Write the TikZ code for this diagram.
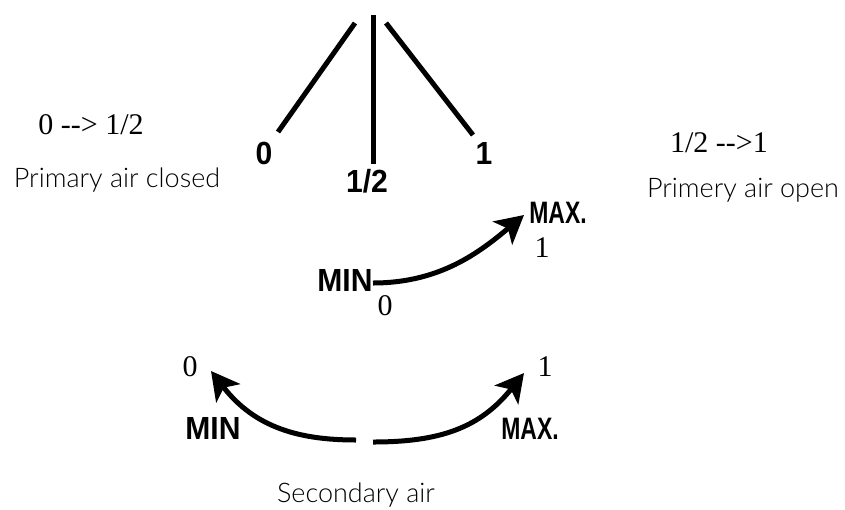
\documentclass[tikz,border=0pt]{standalone}
\usepackage{fontspec}
\setmainfont{Liberation Serif}
\newfontfamily\lblwide{Liberation Sans}[FakeStretch=0.94]
\newfontfamily\lblnarrow{Liberation Sans}[FakeStretch=0.74]
\newfontfamily\thinfont{Lato}[UprightFont=* Light]
\usetikzlibrary{arrows.meta}
\tikzset{
  lever/.style={line width=5pt},
  curvearrow/.style={line width=5pt, -{Stealth[length=28pt,width=30pt,inset=7pt]}},
  boldlbl/.style={font=\lblwide\bfseries\fontsize{32}{34}\selectfont, inner sep=0pt},
  maxlbl/.style={font=\lblnarrow\bfseries\fontsize{31}{34}\selectfont, inner sep=0pt},
  numlbl/.style={font=\fontsize{30}{32}\selectfont, inner sep=0pt},
  thinlbl/.style={font=\thinfont\fontsize{27}{30}\selectfont, inner sep=0pt},
}
\begin{document}
\begin{tikzpicture}[x=1pt,y=-1pt]
\useasboundingbox (0,0) rectangle (845,509);
% lever positions
\coordinate (l0top) at (355,23);
\coordinate (l0bot) at (278,132);
\coordinate (lhtop) at (373,15);
\coordinate (lhbot) at (373,164);
\coordinate (l1top) at (386,23);
\coordinate (l1bot) at (473,135);
\draw[lever] (l0top) -- (l0bot);
\draw[lever] (lhtop) -- (lhbot);
\draw[lever] (l1top) -- (l1bot);
\node[boldlbl, anchor=base] (p0) at (264,164) {0};
\node[boldlbl, anchor=base] (phalf) at (367,192) {1/2};
\node[boldlbl, anchor=base] (p1) at (484,164) {1};
% side texts
\node[numlbl, anchor=base] (rangeA) at (91,134) {0 -{}-> 1/2};
\node[thinlbl, anchor=base] (primclosed) at (117,187) {Primary air closed};
\node[numlbl, anchor=base] (rangeB) at (719,152) {1/2 -{}->1};
\node[thinlbl, anchor=base] (primopen) at (743,197) {Primery air open};
% upper arrow
\node[boldlbl, anchor=base] (minA) at (345,291) {MIN};
\node[maxlbl, anchor=base] (maxA) at (558,223) {MAX.};
\node[numlbl, anchor=base] (zeroA) at (385,315) {0};
\node[numlbl, anchor=base] (oneA) at (542,257) {1};
\coordinate (startA) at (373,283);
\coordinate (tipA) at (524,215);
\draw[curvearrow] (startA) .. controls (440,283) and (480,252) .. (tipA);
% lower arrows
\node[boldlbl, anchor=base] (minB) at (213,439) {MIN};
\node[maxlbl, anchor=base] (maxB) at (530,439) {MAX.};
\node[numlbl, anchor=base] (zeroB) at (190,376) {0};
\node[numlbl, anchor=base] (oneB) at (545,376) {1};
\coordinate (startL) at (356,440);
\coordinate (tipL) at (211,371);
\coordinate (startR) at (373,442);
\coordinate (tipR) at (524,373);
\draw[curvearrow] (startL) .. controls (300,440) and (255,428) .. (tipL);
\draw[curvearrow] (startR) .. controls (440,442) and (480,428) .. (tipR);
\node[thinlbl, anchor=base] (secondary) at (356,502) {Secondary air};
\end{tikzpicture}
\end{document}
